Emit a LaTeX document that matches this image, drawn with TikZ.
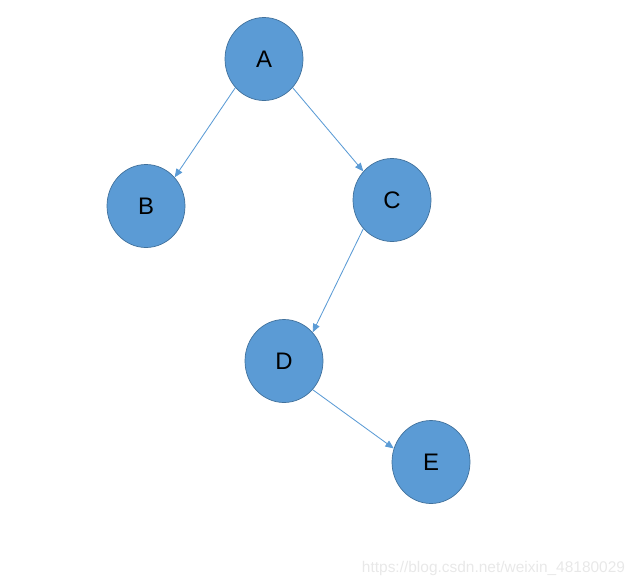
\documentclass[tikz,border=0pt]{standalone}
\usepackage{fontspec}
\setmainfont{Liberation Sans}
\usepackage{xcolor}
\usepackage{tikz}
\usetikzlibrary{shapes.geometric,arrows.meta}
\definecolor{nodeblue}{HTML}{5B9BD5}
\definecolor{nodeedge}{HTML}{41719C}
\definecolor{markgray}{HTML}{E8E8E8}

\begin{document}
\begin{tikzpicture}[scale=1,
        vertex/.style={draw=nodeedge,fill=nodeblue,ellipse,line width=0.5pt,minimum width=1.95cm,minimum height=2.075cm,inner sep=0pt,font=\fontsize{17}{20}\selectfont},
        edge/.style={draw=nodeblue,line width=0.6pt,-{Triangle[length=6pt,width=5pt]}}]
            \useasboundingbox (0,0) rectangle (16,-14.625);
            \node[vertex] (A) at (6.6,-1.475) {A\hspace{4pt}};
            \node[vertex] (B) at (3.65,-5.15) {B\hspace{4pt}};
            \node[vertex] (C) at (9.8,-5.0) {C\hspace{4pt}};
            \node[vertex] (D) at (7.1,-9.025) {D\hspace{4pt}};
            \node[vertex] (E) at (10.775,-11.55) {E\hspace{4pt}};
            \draw[edge] (A.225) -- (B.45);
            \draw[edge] (A.-45) -- (C.135);
            \draw[edge] (C.225) -- (D.45);
            \draw[edge] (D.-45) -- (E.160);
            % watermark
            \node[anchor=east,color=markgray,font=\fontsize{11}{13}\selectfont] (mark) at (15.75,-14.2) {https://blog.csdn.net/weixin\_48180029};
        \end{tikzpicture}
\end{document}
